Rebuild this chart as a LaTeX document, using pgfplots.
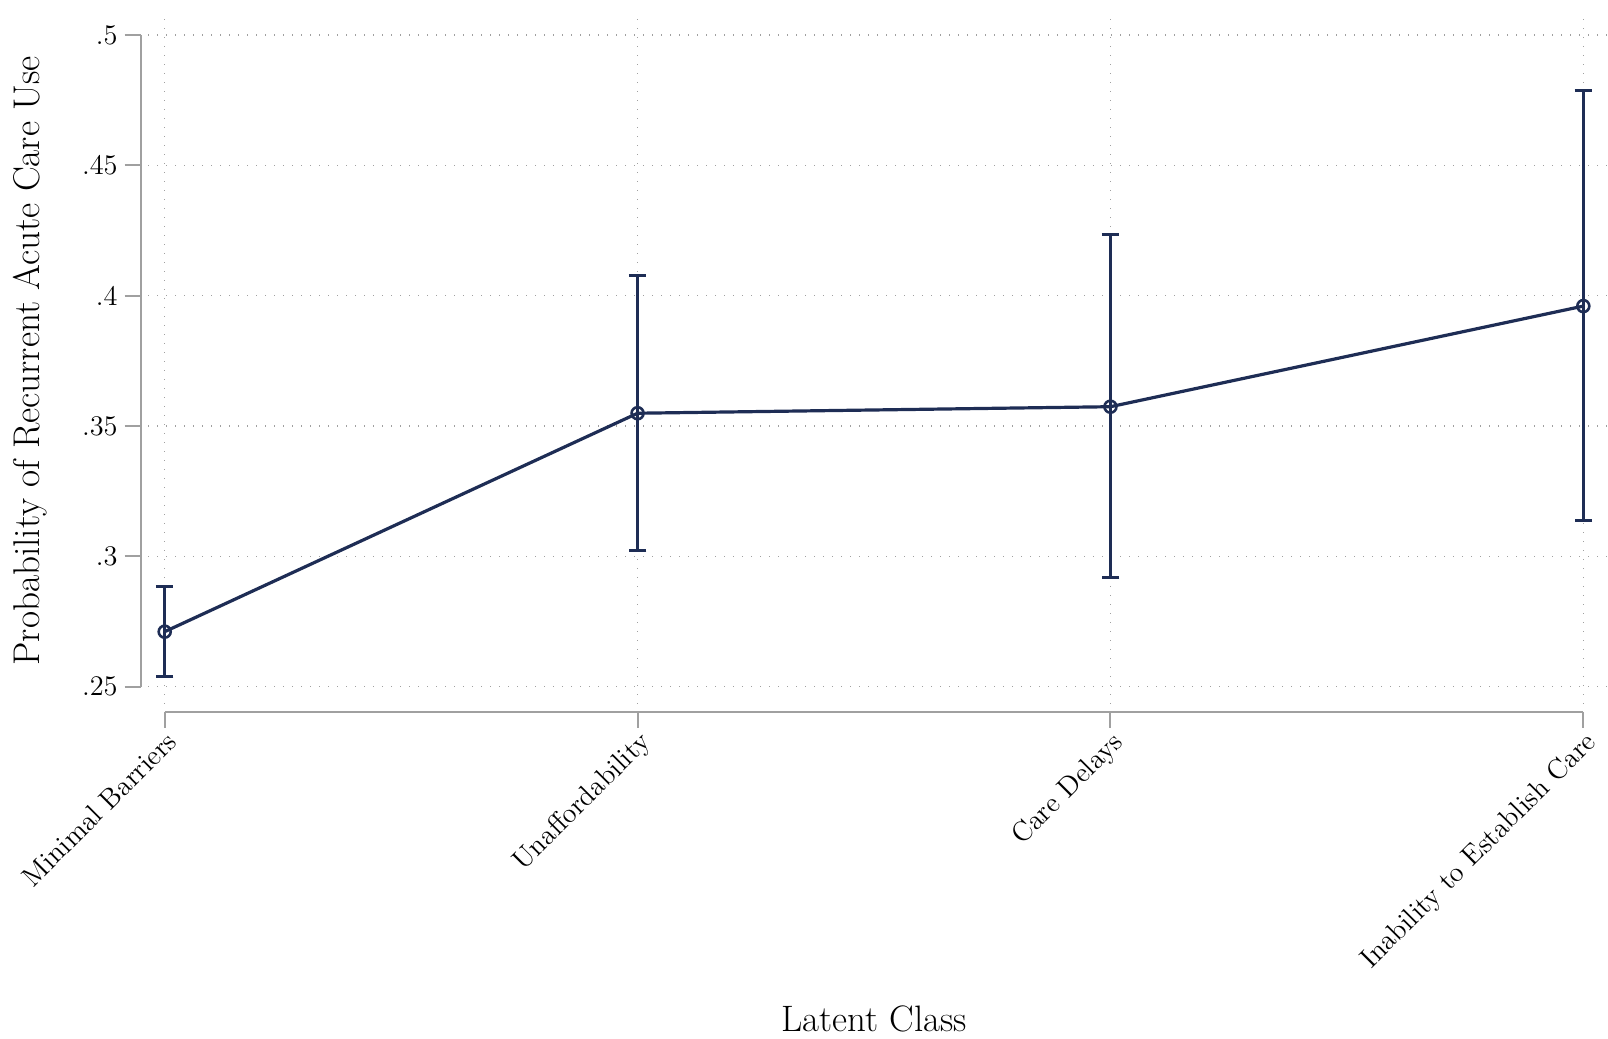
\documentclass[border=0pt]{standalone}
\usepackage{pgfplots}
\usepackage{pgfplotstable}
\pgfplotsset{compat=1.18}

\definecolor{navyline}{RGB}{30,45,85}
\definecolor{axisgray}{RGB}{160,160,160}
\definecolor{gridgray}{RGB}{160,160,160}

% Predicted probability by latent class, with 95% confidence limits
\pgfplotstableread{
x   y       ep      em
0   0.2711  0.0175  0.0173
1   0.3549  0.0527  0.0525
2   0.3574  0.0659  0.0654
3   0.3960  0.0826  0.0823
}\margins

\begin{document}
\begin{tikzpicture}
\path[use as bounding box] (0,0) rectangle (804pt,519.5pt);

% plot region: grid and estimates
\begin{axis}[
  at={(74pt,167.5pt)}, anchor=south west,
  scale only axis, width=730pt, height=346pt,
  xmin=-0.0353, xmax=3.0522,
  ymin=0.24336, ymax=0.50882,
  xtick={0,1,2,3},
  ytick={0.25,0.3,0.35,0.4,0.45,0.5},
  xticklabels={}, yticklabels={},
  axis line style={draw=none},
  tick style={draw=none},
  grid=major,
  major grid style={draw=gridgray, line width=0.65pt, dash pattern=on 0.65pt off 3.85pt},
]
\addplot[
  navyline, line width=1.6pt,
  mark=o, mark size=3pt, mark options={line width=1.3pt, solid},
  error bars/.cd, y dir=both, y explicit,
  error bar style={line width=1.5pt, navyline},
  error mark=-,
  error mark options={rotate=90, line width=1.5pt, mark size=4.4pt, navyline},
] table[x=x, y=y, y error plus=ep, y error minus=em] {\margins};
\end{axis}

% y axis, offset from the plot region
\begin{axis}[
  at={(70.35pt,176.15pt)}, anchor=south west,
  scale only axis, width=100pt, height=325.85pt,
  xmin=0, xmax=1, ymin=0.25, ymax=0.5,
  axis x line=none, axis y line=left,
  axis line style={-, draw=axisgray, line width=1pt},
  every outer y axis line/.append style={-},
  every inner y axis line/.append style={-},
  ytick={0.25,0.3,0.35,0.4,0.45,0.5},
  yticklabels={.25,.3,.35,.4,.45,.5},
  tick align=outside, major tick length=8pt,
  tick style={draw=axisgray, line width=1pt},
  tick label style={font=\fontsize{14.2}{16}\selectfont},
  ylabel={Probability of Recurrent Acute Care Use},
  every axis y label/.style={at={(axis description cs:-0.553,0.5)}, rotate=90, anchor=center,
    font=\fontsize{18.6}{21}\selectfont},
]
\end{axis}

% x axis, offset below the plot region
\begin{axis}[
  at={(82.35pt,163.65pt)}, anchor=south west,
  scale only axis, width=709.3pt, height=100pt,
  xmin=0, xmax=3, ymin=0, ymax=1,
  axis y line=none, axis x line=bottom,
  axis line style={-, draw=axisgray, line width=1pt},
  every outer x axis line/.append style={-},
  every inner x axis line/.append style={-},
  xtick={0,1,2,3},
  xticklabels={Minimal Barriers, Unaffordability, Care Delays, Inability to Establish Care},
  tick align=outside, major tick length=8pt,
  tick style={draw=axisgray, line width=1pt},
  xticklabel shift=-4pt,
  xticklabel style={rotate=45, anchor=north east, font=\fontsize{14}{16}\selectfont},
  xlabel={Latent Class},
  every axis x label/.style={at={(axis description cs:0.5,-1.6)}, anchor=base,
    font=\fontsize{18.4}{21}\selectfont},
]
\end{axis}
\end{tikzpicture}
\end{document}
